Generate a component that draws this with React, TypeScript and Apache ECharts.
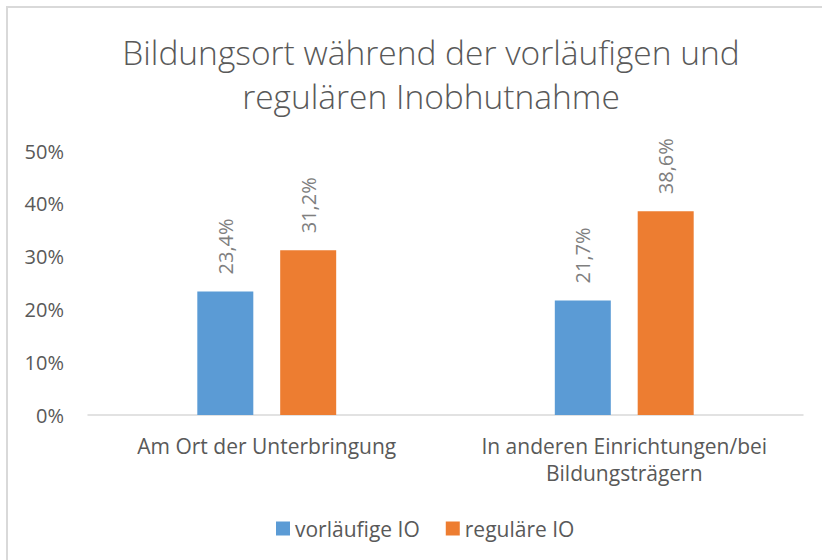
import React, { useEffect, useRef } from "react";
import * as echarts from "echarts";

const titleText = "Bildungsort während der vorläufigen und\nregulären Inobhutnahme";
const categories = ["Am Ort der Unterbringung", "In anderen Einrichtungen/bei\nBildungsträgern"];
const seriesNames = ["vorläufige IO", "reguläre IO"];
const vorlaeufig = [23.4, 21.7];
const regulaer = [31.2, 38.6];
const yTicks = { min: 0, max: 50, interval: 10 };

const FONT = "'Open Sans', sans-serif";
const TEXT = "#595959";

export default function App() {
  const ref = useRef<HTMLDivElement>(null);
  useEffect(() => {
    if (!ref.current) return;
    const chart = echarts.init(ref.current, undefined, { renderer: "svg" });
    const label = {
      show: true,
      position: "top",
      rotate: 90,
      align: "left",
      verticalAlign: "middle",
      distance: 17,
      color: "#7f7f7f",
      fontSize: 20,
      fontFamily: FONT,
      formatter: (p: any) => String(p.value).replace(".", ",") + "%",
    };
    chart.setOption({
      animation: false,
      backgroundColor: "#ffffff",
      textStyle: { fontFamily: FONT },
      graphic: [
        {
          type: "rect",
          shape: { x: 7, y: 7, width: 900, height: 700 },
          style: { fill: "none", stroke: "#d9d9d9", lineWidth: 2 },
          silent: true,
        },
        {
          type: "text",
          x: 431,
          y: 73.5,
          style: {
            text: titleText,
            fontSize: 33.5,
            fontWeight: 300,
            lineHeight: 44,
            fontFamily: FONT,
            fill: TEXT,
            textAlign: "center",
            textVerticalAlign: "middle",
          },
        },
      ],
      legend: {
        data: seriesNames,
        left: 276,
        top: 518,
        padding: 0,
        icon: "rect",
        itemWidth: 14,
        itemHeight: 14,
        itemGap: 26,
        textStyle: { color: TEXT, fontSize: 21, fontFamily: FONT },
      },
      grid: { left: 88, right: 19, top: 151, bottom: 145, containLabel: false },
      xAxis: {
        type: "category",
        data: categories,
        axisLine: { lineStyle: { color: "#d9d9d9", width: 1.5 } },
        axisTick: { show: false },
        axisLabel: {
          color: TEXT,
          fontSize: 21,
          fontFamily: FONT,
          margin: 17,
          lineHeight: 27,
          interval: 0,
        },
      },
      yAxis: {
        type: "value",
        min: yTicks.min,
        max: yTicks.max,
        interval: yTicks.interval,
        axisLine: { show: false },
        axisTick: { show: false },
        splitLine: { show: false },
        axisLabel: {
          color: TEXT,
          fontSize: 20,
          fontFamily: FONT,
          margin: 24,
          formatter: "{value}%",
        },
      },
      series: [
        {
          name: seriesNames[0],
          type: "bar",
          data: vorlaeufig,
          barWidth: 56,
          barGap: "48%",
          itemStyle: { color: "#5b9bd5" },
          label,
        },
        {
          name: seriesNames[1],
          type: "bar",
          data: regulaer,
          barWidth: 56,
          itemStyle: { color: "#ed7d31" },
          label,
        },
      ],
    });
    return () => chart.dispose();
  }, []);
  return (
    <div
      ref={ref}
      style={{ position: "fixed", left: 0, top: 0, width: 822, height: 560 }}
    />
  );
}
